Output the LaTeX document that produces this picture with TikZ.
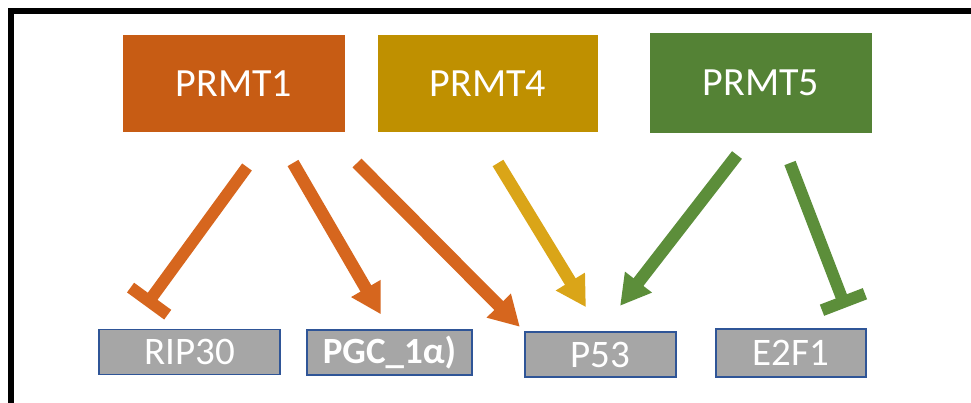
\documentclass[tikz,border=0pt]{standalone}
\usepackage{fontspec}
\setmainfont{Carlito}
\usetikzlibrary{arrows.meta,positioning,calc}

\definecolor{prmtOrange}{RGB}{199,92,20}
\definecolor{prmtGold}{RGB}{191,144,0}
\definecolor{prmtGreen}{RGB}{84,130,53}
\definecolor{arrOrange}{RGB}{214,102,30}
\definecolor{arrGold}{RGB}{218,165,24}
\definecolor{arrGreen}{RGB}{92,142,58}
\definecolor{targetFill}{RGB}{166,166,166}
\definecolor{targetLine}{RGB}{47,85,151}

\begin{document}
\begin{tikzpicture}[
    x=1pt, y=-1pt,
    enzymeBox/.style={
        rectangle, draw=none, inner sep=0pt, text=white,
        minimum width=222pt, minimum height=97pt,
        font=\fontsize{40}{48}\selectfont
    },
    targetBox/.style={
        rectangle, draw=targetLine, line width=1.8pt, fill=targetFill,
        inner sep=0pt, text=white, minimum height=45pt,
        font=\fontsize{39}{46}\selectfont
    },
    actArrow/.style={
        -{Triangle[length=30pt, width=32pt]}, line width=12.5pt
    },
    inhArrow/.style={
        -{Bar[width=46pt]}, line width=12pt
    }
]
\useasboundingbox (0,0) rectangle (971,403);

% Frame (open to the right and bottom)
\draw[line width=5.5pt] (11,430) -- (11,11) -- (1000,11);

% Top: the three enzymes
\node[enzymeBox, fill=prmtOrange] (prmt1) at (234,83.5) {PRMT1};
\node[enzymeBox, fill=prmtGold, minimum width=220pt] (prmt4) at (488,83.5) {PRMT4};
\node[enzymeBox, fill=prmtGreen, minimum height=100pt] (prmt5) at (761,83) {PRMT5};

% Bottom: the targets
\node[targetBox, minimum width=181pt] (rip30) at (189.5,352) {RIP30};
\node[targetBox, minimum width=165pt, font=\fontsize{37}{44}\selectfont\bfseries] (pgc) at (389.5,352.5) {PGC\_1α)};
\node[targetBox, minimum width=151pt] (p53) at (600.5,354.5) {P53};
\node[targetBox, minimum width=150pt, minimum height=48pt] (e2f1) at (791,353) {E2F1};

% Arrow starts below the enzymes
\coordinate (p1Rip) at (247,167);
\coordinate (p1Pgc) at (293,163);
\coordinate (p1P53) at (357,163);
\coordinate (p4P53) at (498,163);
\coordinate (p5P53) at (737,155);
\coordinate (p5E2f) at (790,163);

% Flows
\draw[inhArrow, draw=arrOrange, shorten >=28pt] (p1Rip) -- ([xshift=31pt]rip30.north west);
\draw[actArrow, draw=arrOrange, shorten >=17pt] (p1Pgc) -- (pgc.north);
\draw[actArrow, draw=arrOrange, shorten >=6pt] (p1P53) -- (p53.north west);
\draw[actArrow, draw=arrGold, shorten >=28pt] (p4P53) -- (p53.north);
\draw[actArrow, draw=arrGreen, shorten >=32pt] (p5P53) -- (p53.north);
\draw[inhArrow, draw=arrGreen, shorten >=22pt] (p5E2f) -- ([xshift=62.5pt]e2f1.north);

\end{tikzpicture}
\end{document}
